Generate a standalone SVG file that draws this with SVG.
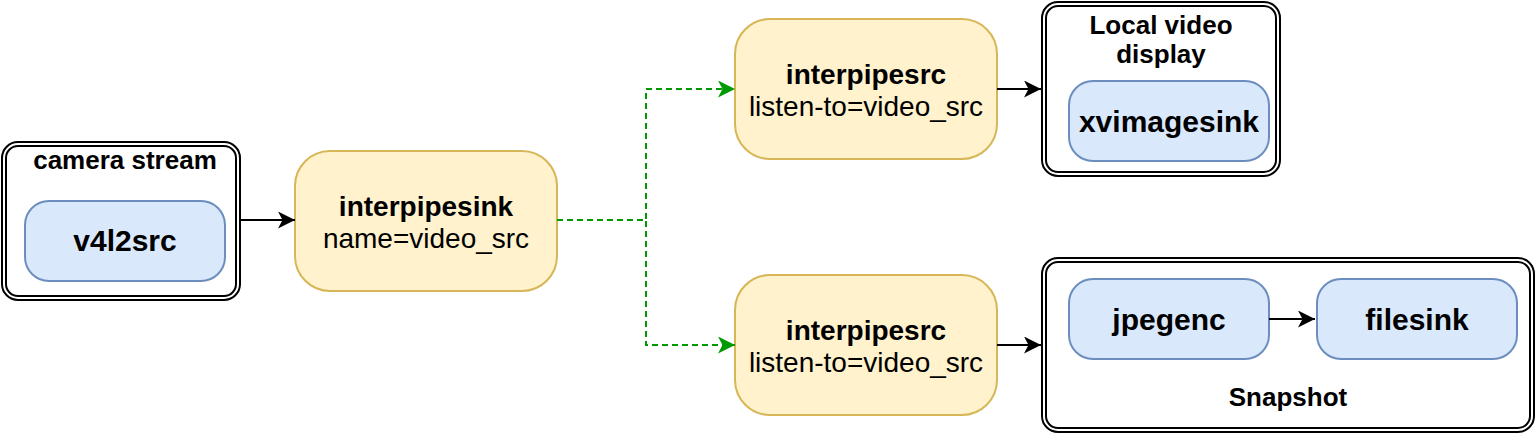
<svg xmlns="http://www.w3.org/2000/svg" width="1536" height="434" viewBox="0 0 1536 434">
  <style>
    text { font-family: "Liberation Sans", Arial, Helvetica, sans-serif; text-anchor: middle; fill: #000000; }
    .b { font-weight: bold; }
    .lbl30 { font-size: 30px; font-weight: bold; }
    .lbl28 { font-size: 28px; }
    .lbl26 { font-size: 26px; font-weight: bold; }
    .frame { fill: #ffffff; stroke: #000000; stroke-width: 2; }
    .frame-in { fill: none; stroke: #000000; stroke-width: 2; }
    .blue { fill: #dae8fc; stroke: #6c8ebf; stroke-width: 2; }
    .yellow { fill: #fff2cc; stroke: #d6b656; stroke-width: 2; }
    .edge { fill: none; stroke: #000000; stroke-width: 2; }
    .green { fill: none; stroke: #009900; stroke-width: 2; stroke-dasharray: 6 4; }
  </style>
  <defs>
    <marker id="arrowBlack" markerUnits="userSpaceOnUse" markerWidth="18" markerHeight="18" refX="17" refY="8.5" orient="auto" viewBox="0 0 18 18">
      <path d="M0,0 L17,8.5 L0,17 L4.5,8.5 Z" fill="#000000"/>
    </marker>
    <marker id="arrowGreen" markerUnits="userSpaceOnUse" markerWidth="18" markerHeight="18" refX="17" refY="8.5" orient="auto" viewBox="0 0 18 18">
      <path d="M0,0 L17,8.5 L0,17 L4.5,8.5 Z" fill="#009900"/>
    </marker>
  </defs>

  <g id="camera-stream">
    <rect class="frame" x="2" y="142" width="238" height="158" rx="16" ry="16"/>
    <rect class="frame-in" x="6" y="146" width="230" height="150" rx="12" ry="12"/>
    <text class="lbl26" x="125" y="169">camera stream</text>
  </g>
  <g id="v4l2src">
    <rect class="blue" x="25" y="201" width="200" height="80" rx="24" ry="24"/>
    <text class="lbl30" x="125" y="251">v4l2src</text>
  </g>

  <g id="interpipesink">
    <rect class="yellow" x="295" y="151" width="262" height="140" rx="35" ry="35"/>
    <text class="lbl28 b" x="426" y="216">interpipesink</text>
    <text class="lbl28" x="426" y="248">name=video_src</text>
  </g>

  <g id="interpipesrc-top">
    <rect class="yellow" x="735" y="19" width="262" height="140" rx="35" ry="35"/>
    <text class="lbl28 b" x="866" y="84">interpipesrc</text>
    <text class="lbl28" x="866" y="116">listen-to=video_src</text>
  </g>

  <g id="interpipesrc-bottom">
    <rect class="yellow" x="735" y="275" width="262" height="140" rx="35" ry="35"/>
    <text class="lbl28 b" x="866" y="340">interpipesrc</text>
    <text class="lbl28" x="866" y="372">listen-to=video_src</text>
  </g>

  <g id="local-video-display">
    <rect class="frame" x="1042" y="2" width="238" height="174" rx="16" ry="16"/>
    <rect class="frame-in" x="1046" y="6" width="230" height="166" rx="12" ry="12"/>
    <text class="lbl26" x="1161" y="34">Local video</text>
    <text class="lbl26" x="1161" y="63">display</text>
  </g>
  <g id="xvimagesink">
    <rect class="blue" x="1069" y="81" width="200" height="80" rx="24" ry="24"/>
    <text class="lbl30" x="1169" y="131.5">xvimagesink</text>
  </g>

  <g id="snapshot">
    <rect class="frame" x="1042" y="258" width="492" height="174" rx="16" ry="16"/>
    <rect class="frame-in" x="1046" y="262" width="484" height="166" rx="12" ry="12"/>
    <text class="lbl26" x="1288" y="406">Snapshot</text>
  </g>
  <g id="jpegenc">
    <rect class="blue" x="1069" y="279" width="200" height="80" rx="24" ry="24"/>
    <text class="lbl30" x="1169" y="329.5">jpegenc</text>
  </g>
  <g id="filesink">
    <rect class="blue" x="1317" y="279" width="200" height="80" rx="24" ry="24"/>
    <text class="lbl30" x="1417" y="329.5">filesink</text>
  </g>

  <g id="connectors">
    <path class="edge" d="M241,220 H295" marker-end="url(#arrowBlack)"/>
    <path class="green" d="M557,220 H646 V89 H735" marker-end="url(#arrowGreen)"/>
    <path class="green" d="M557,220 H646 V345 H735" marker-end="url(#arrowGreen)"/>
    <path class="edge" d="M997,89 H1041" marker-end="url(#arrowBlack)"/>
    <path class="edge" d="M997,345 H1041" marker-end="url(#arrowBlack)"/>
    <path class="edge" d="M1269,319 H1315" marker-end="url(#arrowBlack)"/>
  </g>
</svg>
